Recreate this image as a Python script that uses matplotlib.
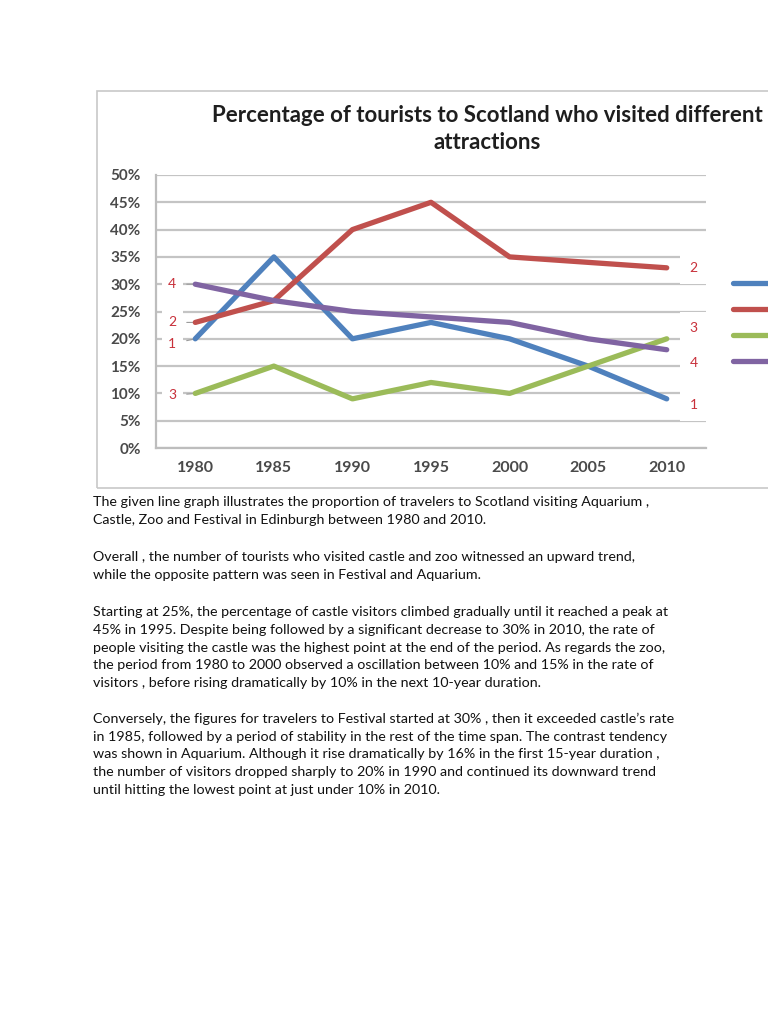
import matplotlib.pyplot as plt
from matplotlib.patches import Rectangle

plt.rcParams['font.family'] = ['Lato', 'DejaVu Sans']

W, H = 768, 1024

years = ['1980', '1985', '1990', '1995', '2000', '2005', '2010']
series_names = ['Aquarium', 'Castle', 'Zoo', 'Festival']
aquarium = [20, 35, 20, 23, 20, 15, 9]
castle = [23, 27, 40, 45, 35, 34, 33]
zoo = [10, 15, 9, 12, 10, 15, 20]
festival = [30, 27, 25, 24, 23, 20, 18]
series = [aquarium, castle, zoo, festival]
colors = ['#4F81BD', '#C0504D', '#9BBB59', '#8064A2']
tag = ['1', '2', '3', '4']

# label offsets (pixels) for the start / end tags, same order as series
left_dy = [-5, 0, -2, 0]
right_dy = [-6, 0, 11, -13]

title = 'Percentage of tourists to Scotland who visited different\nattractions'

paragraphs = [
    ['The given line graph illustrates the proportion of travelers to Scotland visiting Aquarium ,',
     'Castle, Zoo and Festival in Edinburgh between 1980 and 2010.'],
    ['Overall , the number of tourists who visited castle and zoo witnessed an upward trend,',
     'while the opposite pattern was seen in Festival and Aquarium.'],
    ['Starting at 25%, the percentage of castle visitors climbed gradually until it reached a peak at',
     '45% in 1995. Despite being followed by a significant decrease to 30% in 2010, the rate of',
     'people visiting the castle was the highest point at the end of the period. As regards the zoo,',
     'the period from 1980 to 2000 observed a oscillation between 10% and 15% in the rate of',
     'visitors , before rising dramatically by 10% in the next 10-year duration.'],
    ['Conversely, the figures for travelers to Festival started at 30% , then it exceeded castle\u2019s rate',
     'in 1985, followed by a period of stability in the rest of the time span. The contrast tendency',
     'was shown in Aquarium. Although it rise dramatically by 16% in the first 15-year duration ,',
     'the number of visitors dropped sharply to 20% in 1990 and continued its downward trend',
     'until hitting the lowest point at just under 10% in 2010.'],
]
para_top = [502, 557, 612, 719]
line_step = 17.75

fig = plt.figure(figsize=(W / 100, H / 100), dpi=100)
fig.patch.set_facecolor('white')

# frame of the pasted chart picture
fig.add_artist(Rectangle((97 / W, 1 - 488 / H), 800 / W, (488 - 91) / H,
                         transform=fig.transFigure, fill=False,
                         edgecolor='#C8C8C8', lw=1.2, clip_on=False))

ax = fig.add_axes([156 / W, 1 - 448 / H, 550 / W, 273 / H])
x = list(range(len(years)))
lines = []
for vals, c, name in zip(series, colors, series_names):
    ln, = ax.plot(x, [v / 100 for v in vals], color=c, lw=3.8,
                  solid_capstyle='round', solid_joinstyle='round', label=name, zorder=3)
    lines.append(ln)

for vals, c, t, ldy, rdy in zip(series, colors, tag, left_dy, right_dy):
    ax.annotate(t, xy=(0, vals[0] / 100), xytext=(-23, ldy), textcoords='offset pixels',
                ha='center', va='center', fontsize=10, color='#C8303A',
                bbox=dict(boxstyle='square,pad=0.45', fc='white', ec='none'),
                arrowprops=dict(arrowstyle='-', color='#9A9A9A', lw=0.8,
                                shrinkA=3, shrinkB=2), zorder=2)
    ax.annotate(t, xy=(6, vals[-1] / 100), xytext=(27, rdy), textcoords='offset pixels',
                ha='center', va='center', fontsize=10, color='#C8303A',
                bbox=dict(boxstyle='square,pad=0.7', fc='white', ec='none'),
                zorder=2, annotation_clip=False)

ax.set_xlim(-0.5, 6.5)
ax.set_ylim(0, 0.5)
ax.set_yticks([i / 100 for i in range(0, 51, 5)])
ax.set_yticklabels([f'{i}%' for i in range(0, 51, 5)])
ax.set_xticks(x)
ax.set_xticklabels(years)
ax.tick_params(axis='y', length=0, pad=11, labelsize=11, labelcolor='#4A4A4A')
ax.tick_params(axis='x', length=0, pad=9, labelsize=11.5, labelcolor='#4A4A4A')
for lab in ax.get_xticklabels() + ax.get_yticklabels():
    lab.set_fontweight('bold')
ax.yaxis.grid(True, color='#C4C4C4', lw=1.6, zorder=0)
ax.set_axisbelow(True)
for s in ['top', 'right']:
    ax.spines[s].set_visible(False)
for s in ['left', 'bottom']:
    ax.spines[s].set_color('#BDBDBD')
    ax.spines[s].set_linewidth(1.6)

fig.text(487 / W, 1 - 129 / H, title, ha='center', va='center', fontsize=16,
         fontweight='bold', color='#1E1E1E', linespacing=1.3)

# legend names fall outside the cropped picture, only the keys show
fig.legend(lines, [''] * len(lines), loc='center left',
           bbox_to_anchor=(733 / W, 1 - 323 / H), frameon=False,
           fontsize=10, handlelength=3, labelspacing=1.0, borderpad=0,
           borderaxespad=0, handletextpad=0.0)

for top, para in zip(para_top, paragraphs):
    for i, line in enumerate(para):
        fig.text(93 / W, 1 - (top + i * line_step) / H, line, ha='left', va='center',
                 fontsize=10.3, color='#111111')

fig.savefig('out.png', dpi=100)
